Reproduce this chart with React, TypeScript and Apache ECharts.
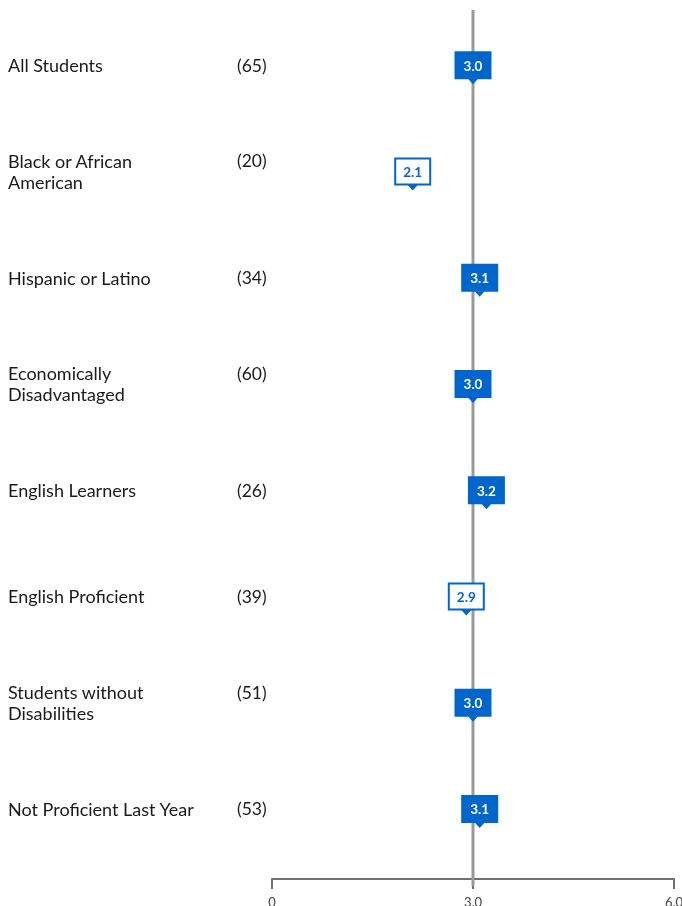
import React, { useEffect, useRef } from "react";
import * as echarts from "echarts";

const categories = [
  "All Students",
  "Black or African\nAmerican",
  "Hispanic or Latino",
  "Economically\nDisadvantaged",
  "English Learners",
  "English Proficient",
  "Students without\nDisabilities",
  "Not Proficient Last Year",
];
const counts = [65, 20, 34, 60, 26, 39, 51, 53];
const values = [3.0, 2.1, 3.1, 3.0, 3.2, 2.9, 3.0, 3.1];
const outlined = [false, true, false, false, false, true, false, false];
const benchmark = 3.0;
const xTicks = [0, 3, 6];

const BLUE = "#0066cc";

export default function App() {
  const ref = useRef<HTMLDivElement>(null);
  useEffect(() => {
    if (!ref.current) return;
    const chart = echarts.init(ref.current, null, { renderer: "svg" });
    const labelFor = (name: string, i: number) => {
      const lines = name.split("\n");
      return lines
        .map((l, k) => (k === 0 ? `{name|${l}}{n|(${counts[i]})}` : `{name|${l}}`))
        .join("\n");
    };
    chart.setOption({
      animation: false,
      textStyle: { fontFamily: "Lato" },
      grid: [
        { left: 272, width: 402, top: 12, height: 850, outerBoundsMode: "none", containLabel: false },
        { left: 272, width: 402, top: 10, height: 876, outerBoundsMode: "none", containLabel: false },
      ],
      xAxis: [
        {
          gridIndex: 0,
          type: "value",
          min: 0,
          max: 6,
          interval: 3,
          offset: 17,
          splitLine: { show: false },
          axisLine: { show: true, lineStyle: { color: "#707070", width: 2 } },
          axisTick: { show: true, length: 10, lineStyle: { color: "#707070", width: 2 } },
          axisLabel: {
            margin: 16,
            color: "#444",
            fontSize: 13,
            fontFamily: "Lato",
            formatter: (v: number) => (xTicks.includes(v) ? (v === 0 ? "0" : v.toFixed(1)) : ""),
          },
        },
        {
          gridIndex: 1,
          type: "value",
          min: 0,
          max: 6,
          show: false,
        },
      ],
      yAxis: [
        {
          gridIndex: 0,
          type: "category",
          inverse: true,
          data: categories,
          axisLine: { show: false },
          axisTick: { show: false },
          splitLine: { show: false },
          axisLabel: {
            margin: 264,
            align: "left",
            formatter: (v: string, i: number) => labelFor(v, i),
            rich: {
              name: { width: 229, fontSize: 18, fontFamily: "Lato", color: "#1a1a1a", lineHeight: 21 },
              n: { fontSize: 17.5, fontFamily: "Lato", color: "#1a1a1a", lineHeight: 21 },
            },
          },
        },
        { gridIndex: 1, type: "value", min: 0, max: 1, show: false },
      ],
      series: [
        {
          type: "line",
          xAxisIndex: 1,
          yAxisIndex: 1,
          data: [
            [benchmark, 0],
            [benchmark, 1],
          ],
          symbol: "none",
          lineStyle: { color: "#999", width: 3 },
          z: 1,
          silent: true,
        },
        {
          type: "custom",
          xAxisIndex: 0,
          yAxisIndex: 0,
          z: 5,
          data: values.map((v, i) => [v, i]),
          renderItem: (params: any, api: any) => {
            const idx = params.dataIndex;
            const v = api.value(0);
            const p = api.coord([v, api.value(1)]);
            const w = 37;
            const h = 28;
            const x0 = p[0] - w / 2;
            const y0 = p[1] - h / 2;
            const out = outlined[idx];
            return {
              type: "group",
              children: [
                {
                  type: "rect",
                  shape: out
                    ? { x: x0 + 1, y: y0 + 1, width: w - 2, height: h - 2 }
                    : { x: x0, y: y0, width: w, height: h },
                  style: out
                    ? { fill: "#fff", stroke: BLUE, lineWidth: 2 }
                    : { fill: BLUE },
                },
                {
                  type: "polygon",
                  shape: {
                    points: [
                      [p[0] - 5, y0 + h - 0.5],
                      [p[0] + 5, y0 + h - 0.5],
                      [p[0], y0 + h + 5],
                    ],
                  },
                  style: { fill: BLUE },
                },
                {
                  type: "text",
                  style: {
                    text: v.toFixed(1),
                    x: p[0],
                    y: p[1] + 0.5,
                    align: "center",
                    verticalAlign: "middle",
                    fill: out ? BLUE : "#fff",
                    font: "bold 13.5px Lato",
                  },
                },
              ],
            };
          },
        },
      ],
    });
    return () => chart.dispose();
  }, []);
  return (
    <div
      ref={ref}
      style={{ position: "fixed", left: 0, top: 0, width: 682, height: 906 }}
    />
  );
}
